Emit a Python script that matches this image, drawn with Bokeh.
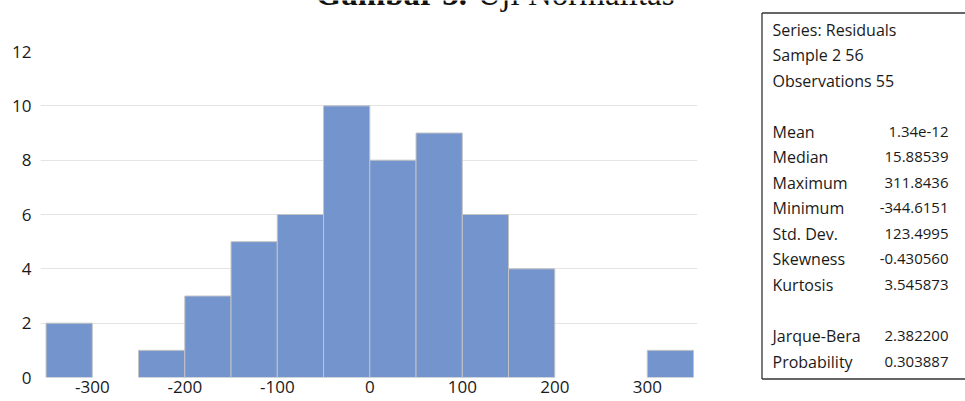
from bokeh.plotting import figure
from bokeh.models import Range1d, FixedTicker, Label, ColumnDataSource, Row
from bokeh.embed import file_html
from bokeh.resources import INLINE
from bokeh.core.properties import value

# ---------------- data ----------------
bin_left = [-350, -300, -250, -200, -150, -100, -50, 0, 50, 100, 150, 200, 250, 300]
counts = [2, 0, 1, 3, 5, 6, 10, 8, 9, 6, 4, 0, 0, 1]
bin_width = 50
x_ticks = [-300, -200, -100, 0, 100, 200, 300]
y_ticks = [0, 2, 4, 6, 8, 10, 12]
grid_ticks = [2, 4, 6, 8, 10]

header_lines = ["Series: Residuals", "Sample 2 56", "Observations 55"]
stat_names = ["Mean", "Median", "Maximum", "Minimum", "Std. Dev.", "Skewness", "Kurtosis"]
stat_values = ["1.34e-12", "15.88539", "311.8436", "-344.6151", "123.4995", "-0.430560", "3.545873"]
test_names = ["Jarque-Bera", "Probability"]
test_values = ["2.382200", "0.303887"]

title_bold = "Gambar 3."
title_rest = "Uji Normalitas"

# ---------------- styles ----------------
BAR_FILL = "#7394CC"
BAR_LINE = "#c4c4c4"
GRID = "#e4e4e4"
TXT = "#1a1a1a"
SANS = "Open Sans"

H = 401
HIST_W = 760
STATS_W = 205

# frame geometry of the histogram (page pixels); the frame reaches the top
# of the canvas so that the cut-off title can be drawn inside it
FL, FR, FT, FB = 40, 697, 0, 377
PX_PER_UNIT = 326 / 12.0          # value 12 sits at page y = 51
X0, X1 = -356.0, 354.3
Y0 = 0
Y1 = (FB - FT) / PX_PER_UNIT


def px_to_x(px):
    return X0 + (px - FL) * (X1 - X0) / (FR - FL)


def py_to_y(py):
    return Y0 + (FB - py) / PX_PER_UNIT


# ---------------- histogram ----------------
p = figure(width=HIST_W, height=H, output_backend="svg", toolbar_location=None,
           x_range=Range1d(X0, X1), y_range=Range1d(Y0, Y1),
           min_border_left=FL, min_border_right=HIST_W - FR,
           min_border_top=FT, min_border_bottom=H - FB)
p.frame_align = False
p.outline_line_color = None
p.background_fill_color = "white"
p.border_fill_color = "white"

lefts = [l for l, c in zip(bin_left, counts) if c > 0]
tops = [c for c in counts if c > 0]
src = ColumnDataSource(dict(left=lefts,
                            right=[l + bin_width for l in lefts],
                            top=tops,
                            bottom=[0] * len(tops)))
p.quad(left="left", right="right", top="top", bottom="bottom", source=src,
       fill_color=BAR_FILL, line_color=BAR_LINE, line_width=1)

p.xgrid.visible = False
p.ygrid.ticker = FixedTicker(ticks=grid_ticks)
p.ygrid.grid_line_color = GRID
p.ygrid.grid_line_width = 1

for ax in (p.xaxis[0], p.yaxis[0]):
    ax.axis_line_color = None
    ax.major_tick_line_color = None
    ax.minor_tick_line_color = None
    ax.major_tick_out = 0
    ax.major_tick_in = 0
    ax.major_label_text_font = SANS
    ax.major_label_text_font_size = "17px"
    ax.major_label_text_color = TXT
p.xaxis.ticker = FixedTicker(ticks=x_ticks)
p.xaxis.major_label_overrides = {t: str(t) for t in x_ticks}
p.yaxis.ticker = FixedTicker(ticks=y_ticks)
p.xaxis.major_label_standoff = 3
p.yaxis.major_label_standoff = 9

# partially cut title at the top
TITLE_Y = py_to_y(-7)
p.add_layout(Label(x=px_to_x(315), y=TITLE_Y, text=title_bold,
                   text_font="Liberation Serif", text_font_size="33px",
                   text_font_style="bold", text_color="#111111",
                   text_baseline="alphabetic", text_align="left"))
p.add_layout(Label(x=px_to_x(477), y=TITLE_Y, text=title_rest,
                   text_font="Liberation Serif", text_font_size="33px",
                   text_color="#111111",
                   text_baseline="alphabetic", text_align="left"))

# ---------------- statistics box ----------------
s = figure(width=STATS_W, height=H, output_backend="svg", toolbar_location=None,
           x_range=Range1d(0, STATS_W), y_range=Range1d(H, 0),
           x_axis_location=None, y_axis_location=None,
           min_border=0, min_border_left=0, min_border_right=0,
           min_border_top=0, min_border_bottom=0)
s.frame_align = False
s.outline_line_color = None
s.xgrid.visible = False
s.ygrid.visible = False
s.background_fill_color = "white"
s.border_fill_color = "white"

BOX_L, BOX_T, BOX_B = 1.5, 12.5, 378.5
s.segment(x0=[BOX_L, BOX_L, BOX_L], y0=[BOX_T, BOX_T, BOX_B],
          x1=[BOX_L, STATS_W, STATS_W], y1=[BOX_B, BOX_T, BOX_B],
          line_color="#333333", line_width=1.3)

ROW0, STEP = 29, 25.55
lines_left = header_lines + [""] + stat_names + [""] + test_names
lines_right = [""] * len(header_lines) + [""] + stat_values + [""] + test_values
ys = [ROW0 + i * STEP for i in range(len(lines_left))]

s.text(x=[12] * len(lines_left), y=ys, text=lines_left,
       text_font=value(SANS), text_font_size="16px", text_color=TXT,
       text_baseline="middle", text_align="left")
s.text(x=[188] * len(lines_right), y=ys, text=lines_right,
       text_font=value(SANS), text_font_size="15px", text_color=TXT,
       text_baseline="middle", text_align="right")

layout = Row(children=[p, s], spacing=0)

open("out.html", "w").write(file_html(layout, INLINE))
